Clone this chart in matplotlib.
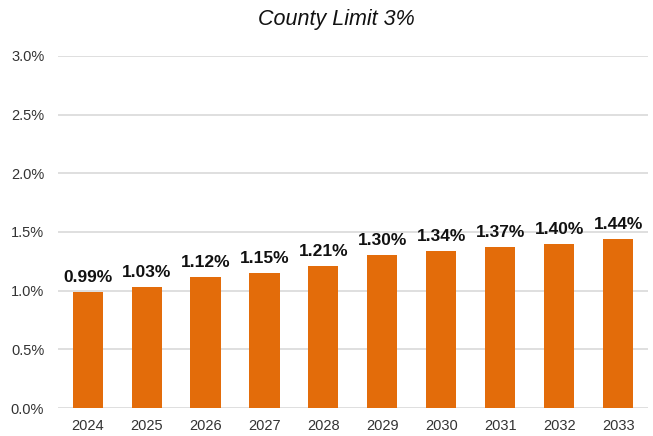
import matplotlib as mpl
import matplotlib.pyplot as plt
import numpy as np
from matplotlib.ticker import FuncFormatter

mpl.rcParams["font.family"] = ["Liberation Sans", "DejaVu Sans"]

years = ["2024", "2025", "2026", "2027", "2028", "2029", "2030", "2031", "2032", "2033"]
rates = [0.99, 1.03, 1.12, 1.15, 1.21, 1.30, 1.34, 1.37, 1.40, 1.44]
yticks = [0.0, 0.5, 1.0, 1.5, 2.0, 2.5, 3.0]

fig = plt.figure(figsize=(6.53, 4.36), dpi=100)
ax = fig.add_axes([0.089, 0.064, 0.903, 0.808])

x = np.arange(len(years))
bars = ax.bar(x, rates, width=0.51, color="#E36C0A", zorder=3)

for b, v in zip(bars, rates):
    ax.annotate(f"{v:.2f}%", (b.get_x() + b.get_width() / 2, v),
                xytext=(0, 5), textcoords="offset points",
                ha="center", va="bottom", fontsize=12.5, fontweight="bold",
                color="#111111")

ax.set_xlim(-0.5, len(years) - 0.5)
ax.set_ylim(0, 3.0)
ax.set_yticks(yticks)
ax.yaxis.set_major_formatter(FuncFormatter(lambda v, p: f"{v:.1f}%"))
ax.set_xticks(x)
ax.set_xticklabels(years)

ax.grid(axis="y", color="#D9D9D9", linewidth=1.2, zorder=0)
for s in ax.spines.values():
    s.set_visible(False)
ax.tick_params(axis="both", length=0, labelsize=10.5, labelcolor="#333333")
ax.tick_params(axis="y", pad=10)
ax.tick_params(axis="x", pad=8)

fig.text(0.515, 0.955, "County Limit 3%", ha="center", va="center",
         fontsize=15.5, style="italic", color="#111111")

plt.savefig("out.png", dpi=100, facecolor="w")
